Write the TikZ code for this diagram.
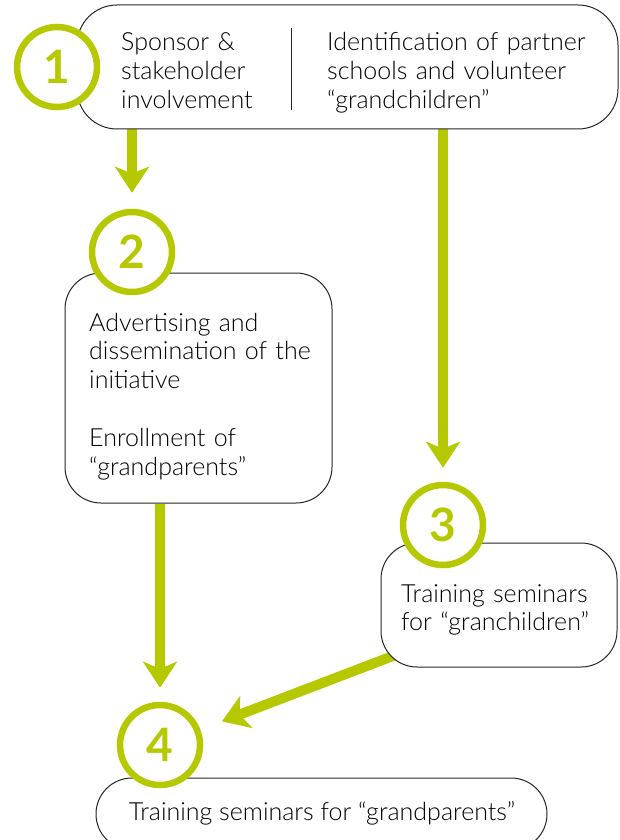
\documentclass[tikz,border=0pt]{standalone}
\usepackage{fontspec}
\setmainfont{Lato Light}
\newfontfamily\numfont{Lato}
\usetikzlibrary{arrows.meta,calc,backgrounds}
\definecolor{lime}{RGB}{181,200,0}
\begin{document}
\begin{tikzpicture}[x=1pt,y=-1pt,
  box/.style={draw=black!85,line width=1pt,fill=white,rounded corners=#1},
  box/.default=36pt,
  num/.style={circle,draw=lime,line width=6.5pt,fill=white,minimum size=80pt,inner sep=0pt,
    text=lime,font=\numfont\bfseries\fontsize{46}{46}\selectfont},
  txt/.style={inner sep=0pt,align=left,text width=300pt,anchor=base west,
    font=\fontsize{25}{28.8}\selectfont,text=black},
  arr/.style={draw=lime,line width=10pt,-{Stealth[length=26pt,width=34pt,inset=7pt]}}
]
\useasboundingbox (0,0) rectangle (620,840);
% boxes
\node[box=40pt,minimum width=541pt,minimum height=124pt] (b1) at (347.5,67) {};
\node[box=36pt,minimum width=267pt,minimum height=230pt] (b2) at (198.5,388) {};
\node[box=36pt,minimum width=236pt,minimum height=124pt] (b3) at (499,605) {};
\node[box=36pt,minimum width=451pt,minimum height=72pt] (b4) at (321.5,814) {};
% circles
\node[num] (c1) at (57,67) {1};
\node[num] (c2) at (132,252) {2};
\node[num] (c3) at (443,525) {3};
\node[num] (c4) at (160,745) {4};
% connectors
\begin{scope}[on background layer]
\draw[arr,shorten >=16pt] (b1.south -| c2) -- (c2.north);
\draw[arr,shorten >=14pt] (b1.south -| c3) -- (c3.north);
\draw[arr,shorten >=14pt] (b2.south -| c4) -- (c4.north);
\draw[arr,shorten >=23pt] ([shift={(19,-14)}]b3.south west) -- (c4);
\end{scope}
% divider
\coordinate (d1) at (291,28);
\coordinate (d2) at (291,110);
\draw[black!85,line width=1pt] (d1) -- (d2);
% texts
\node[txt] (t1a) at (121,51) {Sponsor \&\\stakeholder\\involvement};
\node[txt] (t1b) at (327,51) {Identification of partner\\schools and volunteer\\“grandchildren”};
\node[txt] (t2) at (89,331) {Advertising and\\dissemination of the\\initiative\\[28.8pt]Enrollment of\\“grandparents”};
\node[txt] (t3) at (401,602) {Training seminars\\for “granchildren”};
\node[inner sep=0pt,anchor=base,font=\fontsize{25}{28.8}\selectfont,text=black] (t4) at (322,820) {Training seminars for “grandparents”};
\end{tikzpicture}
\end{document}
